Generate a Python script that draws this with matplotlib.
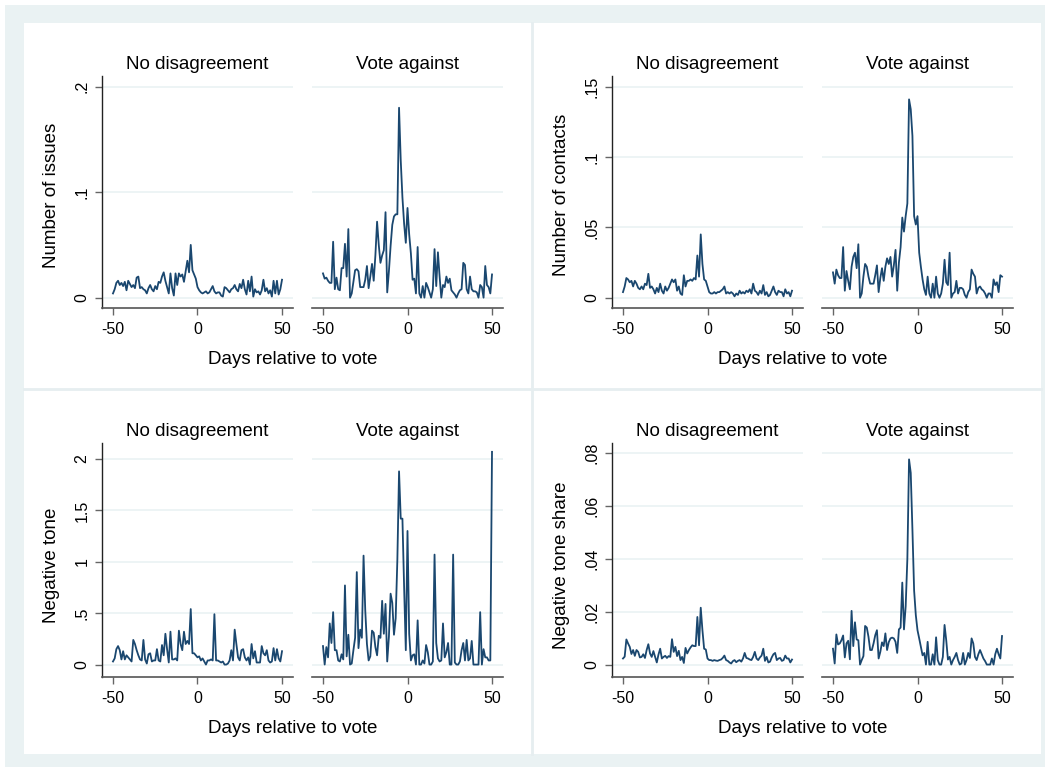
import numpy as np
import matplotlib.pyplot as plt
from matplotlib.patches import Rectangle
from matplotlib.lines import Line2D

plt.rcParams['font.family'] = ['Liberation Sans', 'DejaVu Sans']

## data: daily means, days -50 .. 50 around the vote
days = np.arange(-50, 51)

issues_nodis = [
    .004, .008, .014, .016, .012, .014, .011, .015, .007, .016,
    .013, .010, .012, .009, .019, .020, .009, .010, .008, .007,
    .004, .009, .012, .008, .006, .011, .008, .015, .014, .020,
    .024, .016, .010, .004, .023, .009, .002, .023, .012, .023,
    .020, .022, .015, .025, .035, .024, .050, .026, .022, .018,
    .010, .007, .005, .004, .005, .006, .004, .005, .008, .011,
    .006, .004, .005, .005, .002, .001, .010, .009, .007, .005,
    .008, .009, .012, .008, .006, .013, .009, .017, .008, .003,
    .016, .006, .020, .001, .008, .005, .006, .003, .007, .017,
    .006, .009, .004, .007, .001, .016, .004, .016, .003, .008,
    .017]
issues_against = [
    .023, .018, .019, .016, .014, .014, .053, .008, .019, .008,
    .007, .028, .028, .051, .020, .065, .000, .004, .015, .026,
    .027, .025, .010, .010, .010, .017, .030, .009, .020, .032,
    .016, .040, .072, .050, .033, .040, .045, .081, .005, .025,
    .049, .069, .077, .079, .079, .180, .130, .095, .070, .052,
    .085, .060, .042, .017, .018, .004, .048, .004, .000, .011,
    .000, .014, .010, .005, .000, .008, .046, .011, .043, .020,
    .000, .012, .010, .020, .014, .018, .007, .005, .003, .000,
    .004, .007, .008, .033, .031, .008, .004, .020, .008, .006,
    .006, .005, .000, .012, .010, .000, .030, .012, .010, .004,
    .022]

contacts_nodis = [
    .004, .008, .014, .013, .011, .012, .008, .012, .010, .007,
    .006, .008, .006, .010, .009, .017, .007, .008, .006, .003,
    .007, .004, .010, .005, .003, .008, .005, .007, .010, .013,
    .011, .013, .005, .008, .003, .002, .016, .008, .012, .012,
    .013, .012, .014, .013, .030, .015, .045, .024, .013, .012,
    .008, .004, .003, .003, .004, .003, .004, .004, .005, .006,
    .008, .003, .004, .003, .004, .003, .001, .003, .002, .005,
    .003, .004, .003, .005, .004, .006, .003, .010, .005, .004,
    .002, .005, .003, .009, .002, .004, .001, .002, .005, .008,
    .004, .002, .005, .004, .004, .001, .006, .003, .004, .001,
    .005]
contacts_against = [
    .018, .010, .020, .016, .014, .014, .036, .005, .019, .012,
    .006, .022, .029, .032, .021, .038, .000, .003, .015, .024,
    .022, .015, .010, .010, .010, .016, .023, .004, .014, .021,
    .012, .022, .028, .024, .029, .015, .023, .034, .005, .025,
    .036, .057, .047, .058, .067, .141, .134, .115, .058, .052,
    .058, .032, .022, .013, .006, .002, .015, .003, .000, .010,
    .000, .015, .003, .000, .003, .010, .027, .011, .009, .032,
    .000, .003, .004, .012, .003, .007, .007, .006, .002, .000,
    .004, .006, .020, .017, .015, .003, .007, .008, .006, .005,
    .003, .000, .003, .003, .000, .013, .009, .011, .004, .016,
    .015]

tone_nodis = [
    .03, .06, .15, .18, .14, .05, .13, .05, .09, .07,
    .05, .03, .24, .20, .14, .09, .05, .04, .24, .05,
    .01, .10, .11, .03, .04, .04, .15, .04, .03, .19,
    .09, .30, .15, .02, .32, .05, .05, .06, .04, .33,
    .20, .14, .32, .20, .23, .20, .54, .11, .11, .09,
    .07, .08, .04, .06, .03, .00, .04, .04, .05, .04,
    .49, .04, .04, .03, .02, .03, .00, .00, .01, .04,
    .14, .04, .34, .20, .07, .04, .14, .15, .07, .04,
    .07, .00, .20, .06, .13, .02, .02, .02, .18, .11,
    .09, .14, .04, .02, .03, .16, .04, .15, .06, .03,
    .13]
tone_against = [
    .18, .00, .17, .07, .40, .21, .51, .14, .14, .04,
    .03, .10, .05, .77, .08, .29, .00, .01, .14, .26,
    .90, .16, .34, .26, 1.06, .53, .20, .04, .08, .33,
    .31, .17, .09, .28, .26, .62, .30, .59, .03, .27,
    .69, .60, .29, .45, 1.02, 1.88, 1.42, 1.42, .75, .14,
    1.30, .30, .04, .09, .10, .00, .43, .00, .00, .04,
    .01, .19, .12, .00, .00, .03, 1.07, .21, .06, .03,
    .04, .40, .07, .12, .21, .00, .00, 1.07, .02, .00,
    .00, .03, .14, .21, .04, .24, .04, .06, .23, .00,
    .00, .00, .00, .51, .00, .15, .07, .07, .04, .04,
    2.07]

share_nodis = [
    .0023, .0030, .0095, .0080, .0067, .0040, .0055, .0033, .0055, .0048,
    .0027, .0029, .0039, .0025, .0055, .0077, .0042, .0029, .0051, .0029,
    .0008, .0038, .0060, .0023, .0029, .0033, .0025, .0032, .0029, .0096,
    .0048, .0067, .0032, .0052, .0017, .0029, .0006, .0063, .0042, .0055,
    .0065, .0073, .0070, .0070, .0180, .0073, .0215, .0130, .0060, .0057,
    .0023, .0017, .0017, .0014, .0017, .0015, .0014, .0017, .0019, .0025,
    .0034, .0017, .0014, .0008, .0004, .0013, .0017, .0009, .0014, .0017,
    .0011, .0023, .0044, .0025, .0023, .0019, .0017, .0029, .0048, .0023,
    .0017, .0027, .0034, .0060, .0014, .0029, .0008, .0011, .0027, .0039,
    .0044, .0017, .0023, .0025, .0014, .0017, .0034, .0023, .0023, .0008,
    .0019]
share_against = [
    .0060, .0004, .0114, .0076, .0080, .0092, .0110, .0027, .0080, .0090,
    .0020, .0203, .0070, .0160, .0095, .0092, .0000, .0017, .0032, .0146,
    .0140, .0105, .0055, .0055, .0080, .0111, .0130, .0023, .0048, .0084,
    .0070, .0118, .0055, .0085, .0099, .0102, .0099, .0086, .0044, .0133,
    .0140, .0310, .0133, .0220, .0400, .0776, .0725, .0510, .0280, .0187,
    .0130, .0099, .0067, .0035, .0044, .0000, .0086, .0000, .0000, .0039,
    .0000, .0103, .0017, .0000, .0000, .0029, .0150, .0092, .0019, .0029,
    .0000, .0017, .0029, .0044, .0017, .0000, .0004, .0044, .0000, .0017,
    .0044, .0025, .0099, .0080, .0029, .0017, .0039, .0055, .0039, .0023,
    .0013, .0000, .0000, .0000, .0023, .0000, .0039, .0060, .0039, .0023,
    .0108]

subtitles = ["No disagreement", "Vote against"]
xlabel = "Days relative to vote"

W, H = 1045, 767
fig = plt.figure(figsize=(W / 100, H / 100), dpi=100)

NAVY = '#1a476f'
GRID = '#eaf2f3'


def px_axes(x0, y0, x1, y1):
    # axes box given in pixels from the top left corner
    return fig.add_axes([x0 / W, 1 - y1 / H, (x1 - x0) / W, (y1 - y0) / H])


def ftext(x, y, s, **kw):
    fig.text(x / W, 1 - y / H, s, **kw)


## background: outer band, white graph region, panel borders
fig.add_artist(Rectangle((5 / W, 0), 1, 1 - 5 / H, transform=fig.transFigure,
                         facecolor=GRID, edgecolor='none', zorder=-10))
fig.add_artist(Rectangle((24 / W, 1 - 754 / H), (1041 - 24) / W, (754 - 23) / H,
                         transform=fig.transFigure, facecolor='white',
                         edgecolor='none', zorder=-9))
fig.add_artist(Line2D([532 / W, 532 / W], [1 - 754 / H, 1 - 23 / H],
                      transform=fig.transFigure, color='#e6eef0', lw=2, zorder=-8))
fig.add_artist(Line2D([24 / W, 1041 / W], [1 - 389 / H, 1 - 389 / H],
                      transform=fig.transFigure, color='#e6eef0', lw=2, zorder=-8))


def panel(xoff, ytop, ybot, series, ylim, yticks, ylabels, ylab, ylab_y):
    lefts = [(102, 293), (312, 503)]
    for k in range(2):
        x0, x1 = lefts[k]
        ax = px_axes(x0 + xoff, ytop, x1 + xoff, ybot)
        ax.plot(days, series[k], color=NAVY, lw=1.3, zorder=3)
        ax.set_xlim(-56.5, 56.5)
        ax.set_ylim(*ylim)
        ax.set_xticks([-50, 0, 50])
        ax.set_xticklabels(["-50", "0", "50"], fontsize=11.5)
        ax.set_yticks(yticks)
        for t in yticks:
            ax.axhline(t, color=GRID, lw=1.2, zorder=1)
        ax.tick_params(axis='x', length=5, width=1, color='#666666', pad=5)
        ax.spines['top'].set_visible(False)
        ax.spines['right'].set_visible(False)
        ax.spines['bottom'].set_color('#555555')
        ax.spines['bottom'].set_linewidth(1.2)
        if k == 0:
            ax.set_yticklabels(ylabels, fontsize=11.5, rotation=90, va='center')
            ax.tick_params(axis='y', length=5, width=1, color='#666666', pad=4)
            ax.spines['left'].set_color('#222222')
            ax.spines['left'].set_linewidth(1)
        else:
            ax.spines['left'].set_visible(False)
            ax.tick_params(axis='y', length=0, labelleft=False)
        ftext((x0 + x1) / 2 + xoff, ytop - 7, subtitles[k], fontsize=13.5,
              ha='center', va='baseline')
    ftext(292.5 + xoff, ybot + 56, xlabel, fontsize=13.5, ha='center', va='baseline')
    ftext(52 + xoff, ylab_y, ylab, fontsize=13.5, rotation=90, ha='center', va='center')


panel(0, 76, 308, [issues_nodis, issues_against], (-0.0098, 0.2101),
      [0, .1, .2], ["0", ".1", ".2"], "Number of issues", 195)
panel(510, 76, 308, [contacts_nodis, contacts_against], (-0.0073, 0.1576),
      [0, .05, .1, .15], ["0", ".05", ".1", ".15"], "Number of contacts", 195)
panel(0, 443, 677, [tone_nodis, tone_against], (-0.121, 2.156),
      [0, .5, 1, 1.5, 2], ["0", ".5", "1", "1.5", "2"], "Negative tone", 565)
panel(510, 443, 677, [share_nodis, share_against], (-0.0047, 0.0838),
      [0, .02, .04, .06, .08], ["0", ".02", ".04", ".06", ".08"],
      "Negative tone share", 565)

fig.savefig("out.png", dpi=100)
